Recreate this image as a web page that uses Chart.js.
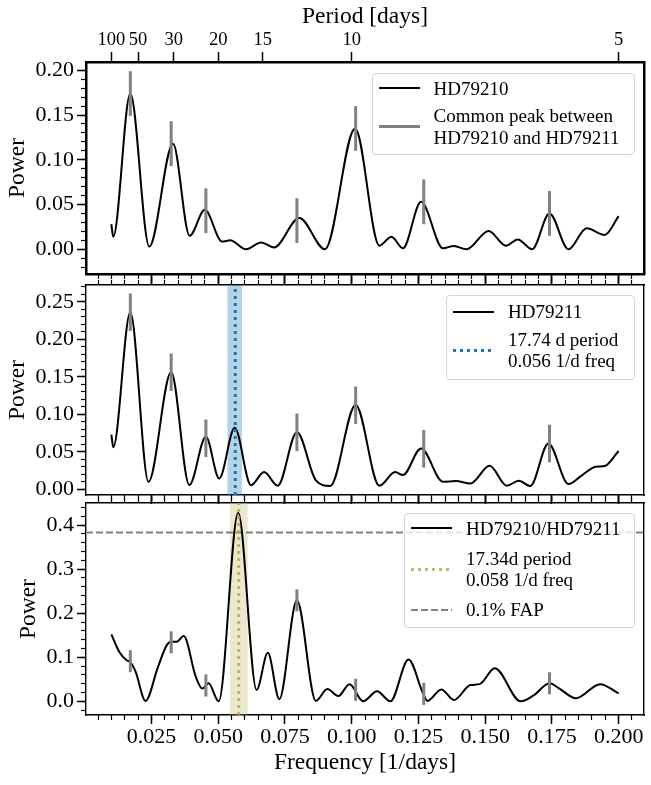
<!DOCTYPE html>
<html>
<head>
<meta charset="utf-8">
<title>HD79210 / HD79211 periodograms</title>
<script src="https://cdn.jsdelivr.net/npm/chart.js@4.4.1/dist/chart.umd.min.js"></script>
<style>
  html, body { margin: 0; padding: 0; background: #fff; }
  #page { position: relative; width: 651px; height: 785px; overflow: hidden;
          font-family: 'Liberation Serif', 'Times New Roman', serif; }
  canvas { position: absolute; left: 0; }
  .legend { position: absolute; box-sizing: border-box; background: rgba(255, 255, 255, 0.8);
            border: 1px solid #d4d4d4; border-radius: 4px; }
  .legend .item { position: absolute; left: 0; display: flex; align-items: center; }
  .legend .sample { flex: none; width: 41px; margin-left: 6px; }
  .legend .text { margin-left: 14px; font-size: 19px; line-height: 21.5px; white-space: nowrap; color: #000; }
</style>
</head>
<body>
<div id="page">
  <canvas id="c1" width="651" height="290" style="top:0px"></canvas>
  <canvas id="c2" width="651" height="228" style="top:276px"></canvas>
  <canvas id="c3" width="651" height="291" style="top:494px"></canvas>
</div>
<script>
// 주파수 축 범위 (1/days)
const X_MIN = 0.0005;
const X_MAX = 0.2095;

// 눈금
const xMajorTicks = [0.025, 0.05, 0.075, 0.1, 0.125, 0.15, 0.175, 0.2];
const periodTicks = [100, 50, 30, 20, 15, 10, 5];
const yTicksA = [0, 0.05, 0.1, 0.15, 0.2];
const yTicksB = [0, 0.05, 0.1, 0.15, 0.2, 0.25];
const yTicksC = [0, 0.1, 0.2, 0.3, 0.4];

// HD79210 (위)
const freqA = [0.0100, 0.0107, 0.0171, 0.0242, 0.0331, 0.0393, 0.0450, 0.0515, 0.0545, 0.0604, 0.0661,
               0.0709, 0.0804, 0.0900, 0.1013, 0.1104, 0.1149, 0.1192, 0.1260, 0.1342, 0.1383, 0.1430,
               0.1513, 0.1578, 0.1622, 0.1676, 0.1741, 0.1812, 0.1880, 0.1948, 0.2000];
const powerA = [0.028, 0.014, 0.174, 0.003, 0.118, 0.015, 0.044, 0.0085, 0.010, 0.000, 0.0075,
                0.002, 0.035, 0.000, 0.135, 0.004, 0.014, 0.001, 0.053, 0.001, 0.0037, 0.000,
                0.0205, 0.004, 0.011, 0.000, 0.040, 0.000, 0.0235, 0.016, 0.037];

// HD79211 (가운데)
const freqB = [0.0100, 0.0107, 0.0171, 0.0239, 0.0324, 0.0392, 0.0454, 0.0504, 0.0562, 0.0623, 0.0672,
               0.0723, 0.0795, 0.0866, 0.0920, 0.1015, 0.1104, 0.1163, 0.1192, 0.1260, 0.1342, 0.1390,
               0.1445, 0.1517, 0.1581, 0.1626, 0.1669, 0.1737, 0.1812, 0.1860, 0.1914, 0.1948, 0.2000];
const powerB = [0.073, 0.056, 0.236, 0.010, 0.156, 0.0056, 0.070, 0.0145, 0.082, 0.0055, 0.023,
                0.0047, 0.076, 0.012, 0.0045, 0.1125, 0.0047, 0.023, 0.019, 0.0545, 0.010, 0.011,
                0.0078, 0.0314, 0.0047, 0.0114, 0.0043, 0.061, 0.007, 0.018, 0.030, 0.031, 0.051];

// HD79210/HD79211 (아래)
const freqC = [0.0100, 0.0130, 0.0157, 0.0171, 0.0191, 0.0228, 0.0273, 0.0307, 0.0325, 0.0345, 0.0371,
               0.0416, 0.0441, 0.0464, 0.0502, 0.0575, 0.0644, 0.0686, 0.0729, 0.0795, 0.0866, 0.0909,
               0.0950, 0.0992, 0.1043, 0.1095, 0.1145, 0.1213, 0.1266, 0.1284, 0.1336, 0.1383, 0.1445,
               0.1479, 0.1536, 0.1633, 0.1683, 0.1741, 0.1778, 0.1839, 0.1931, 0.2000];
const powerC = [0.152, 0.112, 0.093, 0.089, 0.067, 0.001, 0.075, 0.127, 0.135, 0.135, 0.148,
                0.056, 0.029, 0.041, 0.000, 0.428, 0.026, 0.110, 0.005, 0.229, 0.001, 0.028,
                0.012, 0.039, 0.000, 0.023, 0.000, 0.095, 0.020, 0.001, 0.027, 0.003, 0.037,
                0.039, 0.075, 0.000, 0.014, 0.041, 0.029, 0.007, 0.039, 0.018];

// 공통 피크 (회색 세로선, 중심값 ± 0.025)
const commonFreq = [0.0171, 0.0324, 0.0454, 0.0795, 0.1015, 0.1270, 0.1741];
const commonPowerA = [0.174, 0.118, 0.043, 0.032, 0.135, 0.053, 0.040];
const commonPowerB = [0.236, 0.156, 0.068, 0.076, 0.112, 0.054, 0.061];
const commonPowerC = [0.091, 0.134, 0.036, 0.229, 0.026, 0.017, 0.041];
const commonHalf = 0.025;

// 주기 표시
const bandB = [0.0534, 0.0590];
const lineB = 0.0564;
const bandC = [0.0543, 0.0611];
const lineC = 0.0577;
const fapLevel = 0.383;

Chart.defaults.font.family = "'Liberation Serif', 'Times New Roman', serif";
Chart.defaults.color = '#000';

const pts = (xs, ys) => xs.map((x, i) => ({ x, y: ys[i] }));

function steps(start, stop, step) {
    const out = [];
    for (let v = start; v <= stop + 1e-9; v += step) out.push(+v.toFixed(4));
    return out;
}

function setTicks(values) {
    return s => { s.ticks = values.map(v => ({ value: v })); };
}

function fixSize(prop, size) {
    return s => {
        s[prop] = size;
        s.paddingLeft = 0; s.paddingRight = 0; s.paddingTop = 0; s.paddingBottom = 0;
    };
}

function minorAxis(position, min, max, values) {
    const horizontal = position === 'top' || position === 'bottom';
    return {
        type: 'linear', position, min, max, weight: 0,
        afterBuildTicks: setTicks(values),
        ticks: { display: false },
        grid: { drawOnChartArea: false, tickLength: 5, tickWidth: 1.2, tickColor: '#000' },
        border: { display: false },
        afterFit: fixSize(horizontal ? 'height' : 'width', 0)
    };
}

function commonLines(powers) {
    return commonFreq.map((f, i) => ({
        data: [{ x: f, y: powers[i] - commonHalf }, { x: f, y: powers[i] + commonHalf }],
        borderColor: '#808080', borderWidth: 3, borderCapStyle: 'butt', order: 1
    }));
}

function curve(label, xs, ys) {
    return {
        label, data: pts(xs, ys), borderColor: '#000', borderWidth: 2,
        cubicInterpolationMode: 'monotone', order: 2
    };
}

function band(range, yMax, color) {
    return {
        data: [{ x: range[0], y: yMax }, { x: range[1], y: yMax }],
        borderColor: 'rgba(0,0,0,0)', borderWidth: 1, backgroundColor: color, fill: 'start', order: 4
    };
}

function vline(x, yRange, color, width) {
    return {
        data: [{ x, y: yRange[0] }, { x, y: yRange[1] }],
        borderColor: color, borderWidth: width, borderDash: [3, 4], borderCapStyle: 'butt', order: 0
    };
}

// 패널 생성
function makePanel(id, p, datasets) {
    const scales = {
        x: {
            type: 'linear', position: 'bottom', min: X_MIN, max: X_MAX, weight: 1,
            afterBuildTicks: setTicks(xMajorTicks),
            ticks: { display: p.xLabels, font: { size: 22 }, padding: 0, maxRotation: 0,
                     autoSkip: false, callback: v => v.toFixed(3) },
            grid: { drawOnChartArea: false, tickLength: 9, tickWidth: 1.5, tickColor: '#000' },
            border: { display: true, color: '#000', width: p.frame },
            title: { display: p.xLabels, text: 'Frequency [1/days]', font: { size: 23.5 },
                     padding: { top: 0, bottom: 8 } },
            afterFit: fixSize('height', p.bottom)
        },
        xMinor: minorAxis('bottom', X_MIN, X_MAX, steps(0.005, 0.205, 0.005)),
        y: {
            type: 'linear', position: 'left', min: p.yRange[0], max: p.yRange[1], weight: 1,
            afterBuildTicks: setTicks(p.yTicks),
            ticks: { font: { size: 22 }, padding: 3, callback: v => v.toFixed(p.yDigits) },
            grid: { drawOnChartArea: false, tickLength: 9, tickWidth: 1.5, tickColor: '#000' },
            border: { display: true, color: '#000', width: p.frame },
            title: { display: true, text: 'Power', font: { size: 23.5 },
                     padding: { top: p.titlePad, bottom: 0 } },
            afterFit: fixSize('width', 86)
        },
        yMinor: minorAxis('left', p.yRange[0], p.yRange[1], p.yMinor),
        yRight: {
            type: 'linear', position: 'right', min: p.yRange[0], max: p.yRange[1],
            ticks: { display: false },
            grid: { display: false },
            border: { display: true, color: '#000', width: p.frame },
            afterFit: fixSize('width', 7)
        }
    };

    if (p.period) {
        scales.xTop = {
            type: 'linear', position: 'top', min: X_MIN, max: X_MAX, weight: 1,
            afterBuildTicks: setTicks(periodTicks.map(d => 1 / d)),
            ticks: { font: { size: 18.5 }, padding: 1, maxRotation: 0, autoSkip: false,
                     callback: (v, i) => String(periodTicks[i]) },
            grid: { drawOnChartArea: false, tickLength: 10, tickWidth: 1.5, tickColor: '#000' },
            border: { display: true, color: '#000', width: p.frame },
            title: { display: true, text: 'Period [days]', font: { size: 23.5 },
                     padding: { top: 3, bottom: 0 } },
            afterFit: fixSize('height', p.top)
        };
    } else {
        scales.xTop = {
            type: 'linear', position: 'top', min: X_MIN, max: X_MAX, weight: 1,
            afterBuildTicks: setTicks(xMajorTicks),
            ticks: { display: false },
            grid: { drawOnChartArea: false, tickLength: 9, tickWidth: 1.5, tickColor: '#000' },
            border: { display: true, color: '#000', width: p.frame },
            afterFit: fixSize('height', p.top)
        };
        scales.xTopMinor = minorAxis('top', X_MIN, X_MAX, steps(0.005, 0.205, 0.005));
    }

    return new Chart(document.getElementById(id).getContext('2d'), {
        type: 'line',
        data: { datasets },
        options: {
            responsive: false,
            animation: false,
            events: [],
            layout: { padding: 0 },
            elements: { point: { radius: 0, hoverRadius: 0 } },
            plugins: { legend: { display: false }, tooltip: { enabled: false } },
            scales
        }
    });
}

const rangeA = [-0.0277, 0.2093];
const rangeB = [-0.0076, 0.2723];
const rangeC = [-0.031, 0.45];

makePanel('c1', {
    frame: 2.5, top: 62, bottom: 16, xLabels: false, period: true,
    yRange: rangeA, yTicks: yTicksA, yMinor: steps(-0.02, 0.2, 0.01), yDigits: 2, titlePad: 4
}, [
    curve('HD79210', freqA, powerA),
    ...commonLines(commonPowerA)
]);

makePanel('c2', {
    frame: 1.4, top: 9, bottom: 9, xLabels: false, period: false,
    yRange: rangeB, yTicks: yTicksB, yMinor: steps(0, 0.27, 0.01), yDigits: 2, titlePad: 4
}, [
    band(bandB, rangeB[1], 'rgba(31, 119, 180, 0.33)'),
    curve('HD79211', freqB, powerB),
    ...commonLines(commonPowerB),
    vline(lineB, rangeB, '#1f77b4', 3)
]);

makePanel('c3', {
    frame: 1.4, top: 9, bottom: 70, xLabels: true, period: false,
    yRange: rangeC, yTicks: yTicksC, yMinor: steps(-0.02, 0.44, 0.02), yDigits: 1, titlePad: 15
}, [
    band(bandC, rangeC[1], 'rgba(188, 180, 90, 0.3)'),
    {
        label: '0.1% FAP', data: [{ x: X_MIN, y: fapLevel }, { x: X_MAX, y: fapLevel }],
        borderColor: '#808080', borderWidth: 2, borderDash: [7, 3], order: 3
    },
    curve('HD79210/HD79211', freqC, powerC),
    ...commonLines(commonPowerC),
    vline(lineC, rangeC, 'rgba(175, 170, 70, 0.8)', 3)
]);

// 범례 (HTML)
const samples = {
    black: 'height:2px;background:#000',
    gray: 'height:3px;background:#808080',
    blueDot: 'height:3px;background:repeating-linear-gradient(90deg,#1f77b4 0 3px,transparent 3px 7px)',
    oliveDot: 'height:3px;background:repeating-linear-gradient(90deg,rgba(175,170,70,0.8) 0 3px,transparent 3px 7px)',
    grayDash: 'height:2px;background:repeating-linear-gradient(90deg,#808080 0 7px,transparent 7px 10px)'
};

const legends = [
    { box: [371.5, 73.3, 263, 82], items: [
        { cy: 14, sample: 'black', lines: ['HD79210'] },
        { cy: 52.4, sample: 'gray', lines: ['Common peak between', 'HD79210 and HD79211'] }
    ] },
    { box: [446, 295, 189, 85], items: [
        { cy: 15.5, sample: 'black', lines: ['HD79211'] },
        { cy: 54, sample: 'blueDot', lines: ['17.74 d period', '0.056 1/d freq'] }
    ] },
    { box: [404, 513.3, 231, 115], items: [
        { cy: 14, sample: 'black', lines: ['HD79210/HD79211'] },
        { cy: 55, sample: 'oliveDot', lines: ['17.34d period', '0.058 1/d freq'] },
        { cy: 95.7, sample: 'grayDash', lines: ['0.1% FAP'] }
    ] }
];

const page = document.getElementById('page');
legends.forEach(lg => {
    const box = document.createElement('div');
    box.className = 'legend';
    box.style.cssText = `left:${lg.box[0]}px;top:${lg.box[1]}px;width:${lg.box[2]}px;height:${lg.box[3]}px`;
    lg.items.forEach(it => {
        const h = it.lines.length * 21.5;
        const item = document.createElement('div');
        item.className = 'item';
        item.style.top = (it.cy - h / 2) + 'px';
        item.style.height = h + 'px';
        item.innerHTML = `<span class="sample" style="${samples[it.sample]}"></span>` +
            `<span class="text">${it.lines.join('<br>')}</span>`;
        box.appendChild(item);
    });
    page.appendChild(box);
});
</script>
</body>
</html>
